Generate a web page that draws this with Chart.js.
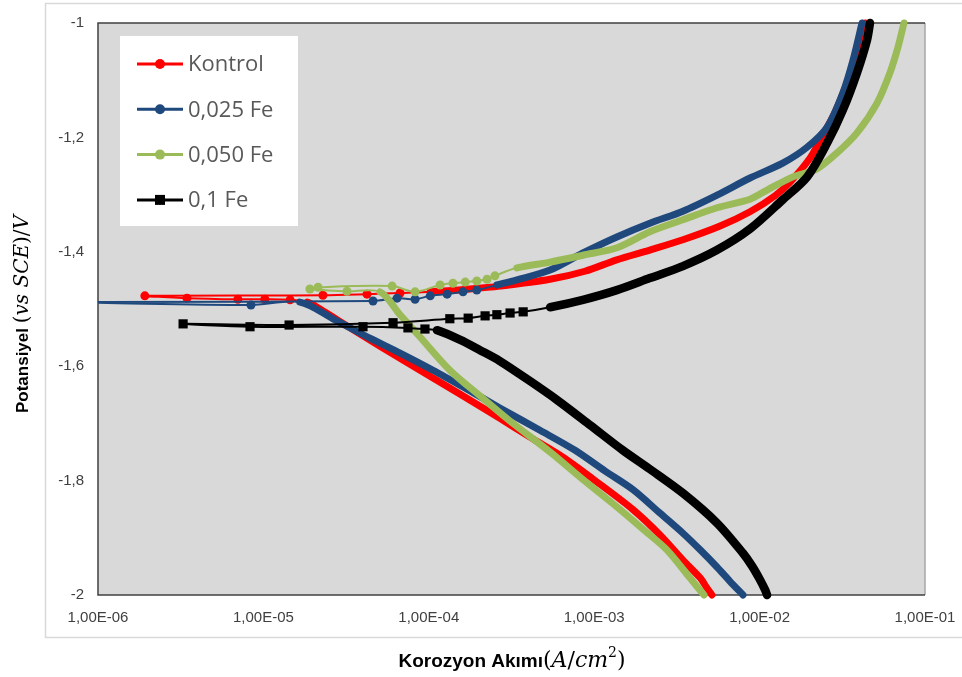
<!DOCTYPE html>
<html>
<head>
<meta charset="utf-8">
<script src="https://cdn.jsdelivr.net/npm/chart.js@4.4.1/dist/chart.umd.min.js"></script>
<style>
html,body{margin:0;padding:0;background:#fff;}
canvas{display:block;}
</style>
</head>
<body>
<canvas id="c" width="962" height="677"></canvas>
<script>
// ---------- DATA (current density A/cm2, potential V vs SCE) ----------
const seriesNames = ['Kontrol', '0,025 Fe', '0,050 Fe', '0,1 Fe'];

// Kontrol
const kontrolCatI = [5.15e-3, 4.81e-3, 4.37e-3, 3.44e-3, 2.50e-3, 1.72e-3, 1.08e-3, 6.47e-4, 4.09e-4, 2.69e-4, 1.55e-4, 8.85e-5, 5.07e-5, 3.34e-5, 2.20e-5, 1.84e-5];
const kontrolCatE = [-2.000, -1.988, -1.970, -1.939, -1.895, -1.851, -1.806, -1.759, -1.724, -1.691, -1.649, -1.607, -1.565, -1.533, -1.500, -1.488];
const kontrolMidI = [1.45e-5, 1.02e-5, 7.01e-6, 3.45e-6, 1.92e-6, 2.29e-5, 4.23e-5, 6.70e-5];
const kontrolMidE = [-1.484, -1.483, -1.483, -1.481, -1.477, -1.476, -1.474, -1.472];
const kontrolAnoI = [1.02e-4, 1.77e-4, 2.69e-4, 5.41e-4, 8.79e-4, 1.37e-3, 2.17e-3, 3.44e-3, 5.77e-3, 8.75e-3, 1.24e-2, 1.53e-2, 2.02e-2, 2.32e-2, 2.86e-2, 3.42e-2, 3.94e-2, 4.34e-2];
const kontrolAnoE = [-1.470, -1.465, -1.460, -1.448, -1.434, -1.414, -1.397, -1.379, -1.355, -1.330, -1.302, -1.278, -1.236, -1.205, -1.156, -1.100, -1.047, -1.000];

// 0,025 Fe
const fe025CatI = [7.94e-3, 6.62e-3, 5.52e-3, 4.37e-3, 3.44e-3, 2.50e-3, 1.72e-3, 1.16e-3, 7.66e-4, 4.70e-4, 2.69e-4, 1.77e-4, 1.06e-4, 6.70e-5, 4.40e-5, 2.71e-5, 1.66e-5];
const fe025CatE = [-2.000, -1.976, -1.951, -1.921, -1.892, -1.857, -1.816, -1.783, -1.747, -1.712, -1.673, -1.643, -1.607, -1.577, -1.551, -1.519, -1.488];
const fe025MidI = [8.41e-6, 8.34e-7, 4.60e-5, 6.43e-5, 8.26e-5, 1.02e-4, 1.29e-4, 1.61e-4, 1.95e-4];
const fe025MidE = [-1.493, -1.488, -1.486, -1.481, -1.483, -1.477, -1.474, -1.470, -1.467];
const fe025AnoI = [2.58e-4, 3.41e-4, 5.41e-4, 8.55e-4, 1.37e-3, 2.17e-3, 3.44e-3, 5.52e-3, 8.75e-3, 1.38e-2, 1.94e-2, 2.56e-2, 3.19e-2, 3.67e-2, 4.16e-2];
const fe025AnoE = [-1.458, -1.449, -1.432, -1.402, -1.374, -1.350, -1.329, -1.301, -1.271, -1.245, -1.217, -1.182, -1.122, -1.065, -1.000];

// 0,050 Fe
const fe050CatI = [4.61e-3, 3.79e-3, 2.75e-3, 2.03e-3, 1.37e-3, 8.79e-4, 5.41e-4, 3.10e-4, 2.04e-4, 1.34e-4, 8.85e-5, 6.70e-5, 5.07e-5];
const fe050CatE = [-2.000, -1.970, -1.921, -1.888, -1.846, -1.801, -1.750, -1.696, -1.652, -1.607, -1.549, -1.510, -1.470];
const fe050MidI = [3.20e-5, 1.91e-5, 2.14e-5, 6.00e-5, 8.26e-5, 1.17e-4, 1.40e-4, 1.66e-4, 1.95e-4, 2.25e-4, 2.51e-4];
const fe050MidE = [-1.469, -1.465, -1.462, -1.460, -1.470, -1.458, -1.455, -1.453, -1.451, -1.448, -1.442];
const fe050AnoI = [3.41e-4, 5.41e-4, 8.55e-4, 1.37e-3, 2.17e-3, 3.44e-3, 5.52e-3, 8.75e-3, 1.11e-2, 1.59e-2, 2.22e-2, 2.94e-2, 3.88e-2, 5.13e-2, 6.14e-2, 6.87e-2, 7.46e-2];
const fe050AnoE = [-1.428, -1.418, -1.406, -1.393, -1.365, -1.344, -1.323, -1.308, -1.292, -1.269, -1.255, -1.227, -1.192, -1.140, -1.087, -1.042, -1.000];

// 0,1 Fe
const fe10CatI = [1.11e-2, 1.08e-2, 1.00e-2, 8.99e-3, 7.94e-3, 5.52e-3, 3.44e-3, 2.17e-3, 1.49e-3, 9.45e-4, 5.96e-4, 4.09e-4, 2.69e-4, 2.04e-4, 1.55e-4, 1.12e-4];
const fe10CatE = [-2.000, -1.991, -1.972, -1.949, -1.927, -1.874, -1.822, -1.780, -1.747, -1.703, -1.659, -1.626, -1.591, -1.572, -1.554, -1.537];
const fe10MidI = [9.48e-5, 7.48e-5, 4.00e-5, 8.30e-6, 3.27e-6, 1.43e-5, 6.08e-5, 1.34e-4, 1.73e-4, 2.19e-4, 2.58e-4, 3.10e-4, 3.72e-4];
const fe10MidE = [-1.535, -1.533, -1.531, -1.531, -1.526, -1.528, -1.524, -1.517, -1.516, -1.512, -1.510, -1.507, -1.505];
const fe10AnoI = [5.41e-4, 8.55e-4, 1.37e-3, 2.17e-3, 3.44e-3, 5.52e-3, 8.75e-3, 1.38e-2, 1.94e-2, 2.56e-2, 3.19e-2, 3.88e-2, 4.46e-2, 4.65e-2];
const fe10AnoE = [-1.497, -1.484, -1.467, -1.446, -1.425, -1.397, -1.360, -1.309, -1.269, -1.210, -1.152, -1.087, -1.030, -1.000];

// Axis ticks
const xTickValues = [1e-6, 1e-5, 1e-4, 1e-3, 1e-2, 1e-1];
const xTickLabels = ['1,00E-06', '1,00E-05', '1,00E-04', '1,00E-03', '1,00E-02', '1,00E-01'];
const yTickValues = [-2, -1.8, -1.6, -1.4, -1.2, -1];
const yTickLabels = ['-2', '-1,8', '-1,6', '-1,4', '-1,2', '-1'];

// ---------- STYLES ----------
const styles = [
  {color: '#ff0000', pointStyle: 'circle', r: 4.5, thick: 7, thin: 2},
  {color: '#1f497d', pointStyle: 'circle', r: 4.5, thick: 7, thin: 2},
  {color: '#9bbb59', pointStyle: 'circle', r: 4.5, thick: 7, thin: 2},
  {color: '#000000', pointStyle: 'rect',   r: 6.5, thick: 8.5, thin: 2}
];

const parts = [
  [[kontrolCatI, kontrolCatE], [kontrolMidI, kontrolMidE], [kontrolAnoI, kontrolAnoE]],
  [[fe025CatI, fe025CatE], [fe025MidI, fe025MidE], [fe025AnoI, fe025AnoE]],
  [[fe050CatI, fe050CatE], [fe050MidI, fe050MidE], [fe050AnoI, fe050AnoE]],
  [[fe10CatI, fe10CatE], [fe10MidI, fe10MidE], [fe10AnoI, fe10AnoE]]
];

function pts(pair) { return pair[0].map((v, i) => ({x: v, y: pair[1][i]})); }

const datasets = parts.map((p, k) => {
  const cat = pts(p[0]), mid = pts(p[1]), ano = pts(p[2]);
  const a = cat.length, b = cat.length + mid.length;
  const s = styles[k];
  return {
    label: seriesNames[k],
    data: cat.concat(mid, ano),
    borderColor: s.color,
    backgroundColor: s.color,
    borderWidth: s.thick,
    borderCapStyle: 'round',
    borderJoinStyle: 'round',
    pointStyle: s.pointStyle,
    pointRadius: ctx => (ctx.dataIndex >= a && ctx.dataIndex < b) ? s.r : 0,
    pointBorderWidth: 0,
    pointHoverRadius: 0,
    tension: 0.3,
    fill: false,
    order: 4 - k,
    clip: {left: 0, top: 6, right: 6, bottom: 6},
    segment: {
      borderWidth: ctx => (ctx.p1DataIndex <= a - 1 || ctx.p0DataIndex >= b) ? s.thick : s.thin
    }
  };
});

// ---------- PLUGINS ----------
const framePlugin = {
  id: 'frame',
  beforeDraw(chart) {
    const ctx = chart.ctx, ca = chart.chartArea;
    ctx.save();
    ctx.fillStyle = '#ffffff';
    ctx.fillRect(0, 0, chart.width, chart.height);
    ctx.strokeStyle = '#d9d9d9';
    ctx.lineWidth = 1.5;
    ctx.beginPath();
    ctx.moveTo(chart.width, 3.5); ctx.lineTo(45.5, 3.5); ctx.lineTo(45.5, 637.5); ctx.lineTo(chart.width, 637.5);
    ctx.stroke();
    ctx.fillStyle = '#d9d9d9';
    ctx.fillRect(ca.left, ca.top, ca.right - ca.left, ca.bottom - ca.top);
    ctx.restore();
  },
  beforeDatasetsDraw(chart) {
    const ctx = chart.ctx, ca = chart.chartArea;
    ctx.save();
    ctx.strokeStyle = '#a6a6a6';
    ctx.lineWidth = 1.5;
    ctx.beginPath(); ctx.moveTo(ca.right, ca.top); ctx.lineTo(ca.right, ca.bottom); ctx.stroke();
    ctx.strokeStyle = '#404040';
    ctx.beginPath();
    ctx.moveTo(ca.right, ca.top); ctx.lineTo(ca.left, ca.top); ctx.lineTo(ca.left, ca.bottom); ctx.lineTo(ca.right, ca.bottom);
    ctx.stroke();
    ctx.restore();
  }
};

const legendPlugin = {
  id: 'innerLegend',
  afterDatasetsDraw(chart) {
    const ctx = chart.ctx;
    ctx.save();
    ctx.fillStyle = '#ffffff';
    ctx.fillRect(120, 36, 178, 190);
    chart.data.datasets.forEach((ds, i) => {
      const y = 64 + i * 45.3;
      const s = styles[i];
      ctx.strokeStyle = s.color;
      ctx.lineWidth = 3;
      ctx.beginPath(); ctx.moveTo(137, y); ctx.lineTo(183, y); ctx.stroke();
      ctx.fillStyle = s.color;
      if (s.pointStyle === 'rect') {
        ctx.fillRect(155, y - 5, 10, 10);
      } else {
        ctx.beginPath(); ctx.arc(160, y, 5, 0, Math.PI * 2); ctx.fill();
      }
      ctx.fillStyle = '#595959';
      ctx.font = '22px "Open Sans", "Liberation Sans", sans-serif';
      ctx.textBaseline = 'middle';
      ctx.textAlign = 'left';
      ctx.fillText(ds.label, 188, y + 1);
    });
    ctx.restore();
  }
};

function drawRich(ctx, runs, startX, baseY) {
  let x = startX;
  runs.forEach(r => {
    ctx.font = r.f;
    ctx.fillText(r.t, x, baseY + (r.dy || 0));
    x += ctx.measureText(r.t).width;
  });
}
function richWidth(ctx, runs) {
  let w = 0;
  runs.forEach(r => { ctx.font = r.f; w += ctx.measureText(r.t).width; });
  return w;
}

const titlePlugin = {
  id: 'axisTitles',
  afterDraw(chart) {
    const ctx = chart.ctx;
    ctx.save();
    ctx.fillStyle = '#000000';
    ctx.textBaseline = 'alphabetic';
    ctx.textAlign = 'left';
    const xRuns = [
      {t: 'Korozyon Akımı', f: 'bold 19px "Liberation Sans", Arial, sans-serif'},
      {t: '(', f: '22px "DejaVu Serif", serif'},
      {t: 'A', f: 'italic 22px "DejaVu Serif", serif'},
      {t: '/', f: '22px "DejaVu Serif", serif'},
      {t: 'cm', f: 'italic 22px "DejaVu Serif", serif'},
      {t: '2', f: '14px "DejaVu Serif", serif', dy: -10},
      {t: ')', f: '22px "DejaVu Serif", serif'}
    ];
    const wx = richWidth(ctx, xRuns);
    drawRich(ctx, xRuns, 512 - wx / 2, 667);

    const yRuns = [
      {t: 'Potansiyel ', f: 'bold 17px "Liberation Sans", Arial, sans-serif'},
      {t: '(', f: '20px "DejaVu Serif", serif'},
      {t: 'vs SCE', f: 'italic 20px "DejaVu Serif", serif'},
      {t: ')/', f: '20px "DejaVu Serif", serif'},
      {t: 'V', f: 'italic 20px "DejaVu Serif", serif'}
    ];
    const wy = richWidth(ctx, yRuns);
    ctx.translate(28, 314);
    ctx.rotate(-Math.PI / 2);
    drawRich(ctx, yRuns, -wy / 2, 0);
    ctx.restore();
  }
};

// ---------- CHART ----------
const tickFont = {family: '"Liberation Sans", Arial, sans-serif', size: 15};

new Chart(document.getElementById('c'), {
  type: 'line',
  data: {datasets},
  options: {
    responsive: false,
    animation: false,
    devicePixelRatio: 1,
    layout: {padding: {left: 0, right: 37, top: 23, bottom: 0}},
    plugins: {legend: {display: false}, tooltip: {enabled: false}},
    events: [],
    scales: {
      x: {
        type: 'logarithmic',
        min: 1e-6,
        max: 1e-1,
        afterBuildTicks: sc => { sc.ticks = xTickValues.map(v => ({value: v, major: true})); },
        afterFit: sc => { sc.height = 82; sc.paddingLeft = 0; sc.paddingRight = 0; },
        ticks: {
          callback: (v, i) => xTickLabels[i],
          font: tickFont,
          color: '#404040',
          padding: 14,
          maxRotation: 0,
          minRotation: 0,
          autoSkip: false
        },
        grid: {display: false, drawTicks: false},
        border: {display: false}
      },
      y: {
        type: 'linear',
        min: -2,
        max: -1,
        afterBuildTicks: sc => { sc.ticks = yTickValues.map(v => ({value: v})); },
        afterFit: sc => { sc.width = 98; sc.paddingTop = 0; sc.paddingBottom = 0; },
        ticks: {
          callback: (v, i) => yTickLabels[i],
          font: tickFont,
          color: '#404040',
          padding: 14
        },
        grid: {display: false, drawTicks: false},
        border: {display: false}
      }
    }
  },
  plugins: [framePlugin, legendPlugin, titlePlugin]
});
</script>
</body>
</html>
